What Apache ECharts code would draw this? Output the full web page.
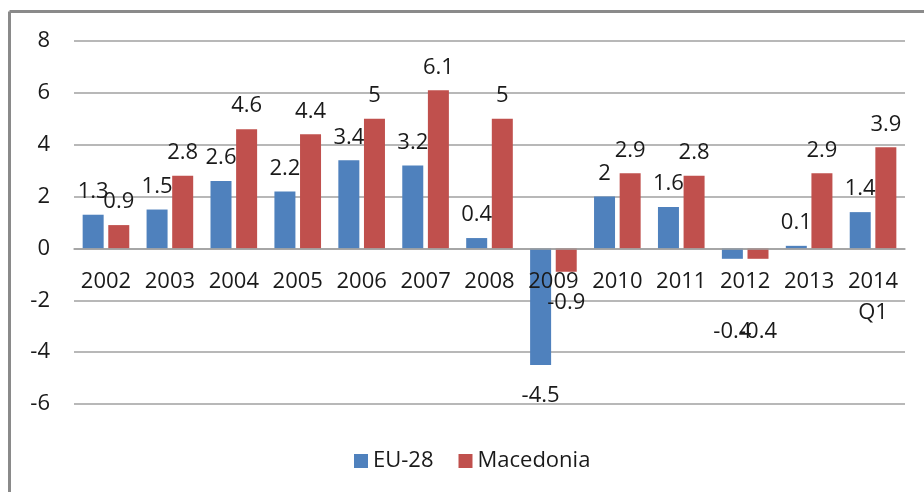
<!DOCTYPE html>
<html>
<head>
<meta charset="utf-8">
<script src="https://cdn.jsdelivr.net/npm/echarts@6/dist/echarts.min.js"></script>
<style>
  html,body{margin:0;padding:0;background:#fff;}
  #chart{width:924px;height:492px;}
</style>
</head>
<body>
<div id="chart"></div>
<script>
  var years = ['2002','2003','2004','2005','2006','2007','2008','2009','2010','2011','2012','2013','2014\nQ1'];
  var eu28 = [1.3, 1.5, 2.6, 2.2, 3.4, 3.2, 0.4, -4.5, 2, 1.6, -0.4, 0.1, 1.4];
  var macedonia = [0.9, 2.8, 4.6, 4.4, 5, 6.1, 5, -0.9, 2.9, 2.8, -0.4, 2.9, 3.9];
  var yTicks = {min: -6, max: 8, step: 2};

  var FONT = '"Open Sans", sans-serif';
  var GRID_TOP = 41, GRID_BOTTOM = 88, H = 492;

  // excel style: label above positive bars, below negative ones
  // very short negative bars get their label pushed under the year labels
  function withLabels(values){
    return values.map(function(v){
      var item = {value: v, label: {}};
      if(v < 0){
        item.label.position = 'bottom';
        item.label.distance = v > -0.5 ? 62 : 20;
      }
      return item;
    });
  }

  function barSeries(name, color, values){
    return {
      name: name,
      type: 'bar',
      barWidth: 21,
      barGap: '22%',
      itemStyle: {color: color},
      label: {
        show: true,
        position: 'top',
        distance: 12,
        color: '#1a1a1a',
        fontFamily: FONT,
        fontSize: 22
      },
      data: withLabels(values)
    };
  }

  // onZero does not move the labels, so shift the whole x axis up to 0
  var plotH = H - GRID_TOP - GRID_BOTTOM;
  var zeroOffset = -plotH * (0 - yTicks.min) / (yTicks.max - yTicks.min);

  var myChart = echarts.init(document.getElementById('chart'));
  var option = {
    animation: false,
    textStyle: {fontFamily: FONT},
    graphic: [
      {type: 'line', shape: {x1: 9.5, y1: 11.5, x2: 924, y2: 11.5}, style: {stroke: '#8a8a8a', lineWidth: 3}},
      {type: 'line', shape: {x1: 9.5, y1: 11.5, x2: 9.5, y2: 492}, style: {stroke: '#8a8a8a', lineWidth: 3}}
    ],
    grid: {
      left: 74,
      right: 19,
      top: GRID_TOP,
      bottom: GRID_BOTTOM
    },
    legend: {
      left: 349,
      top: 445,
      itemWidth: 14,
      itemHeight: 14,
      itemGap: 25,
      icon: 'rect',
      textStyle: {color: '#1a1a1a', fontSize: 22, fontFamily: FONT},
      data: ['EU-28', 'Macedonia']
    },
    xAxis: {
      type: 'category',
      data: years,
      offset: zeroOffset,
      z: 5,
      axisLine: {onZero: false, lineStyle: {color: '#a0a0a0', width: 1.5}},
      axisTick: {show: false},
      axisLabel: {
        color: '#1a1a1a',
        fontSize: 22,
        fontFamily: FONT,
        margin: 18,
        lineHeight: 31,
        interval: 0
      }
    },
    yAxis: {
      type: 'value',
      min: yTicks.min,
      max: yTicks.max,
      interval: yTicks.step,
      axisLine: {show: false},
      axisTick: {show: false},
      axisLabel: {
        color: '#1a1a1a',
        fontSize: 22,
        fontFamily: FONT,
        margin: 24
      },
      splitLine: {lineStyle: {color: '#a0a0a0', width: 1.5}}
    },
    series: [
      barSeries('EU-28', '#4f81bd', eu28),
      barSeries('Macedonia', '#c0504d', macedonia)
    ]
  };
  myChart.setOption(option);
</script>
</body>
</html>
